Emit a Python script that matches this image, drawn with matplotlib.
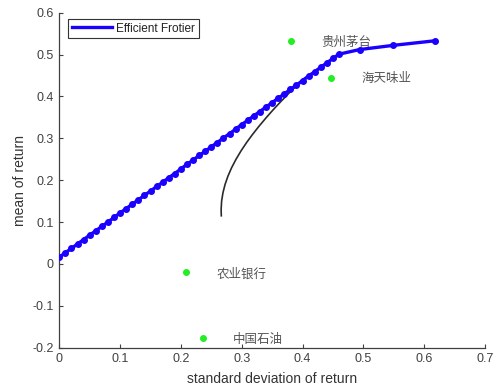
import matplotlib
matplotlib.use("Agg")
import matplotlib.pyplot as plt

# Efficient frontier (with risk-free asset)
frontier_sigma = [0.00, 0.01, 0.02, 0.03, 0.04, 0.05, 0.06, 0.07, 0.08, 0.09,
                  0.10, 0.11, 0.12, 0.13, 0.14, 0.15, 0.16, 0.17, 0.18, 0.19,
                  0.20, 0.21, 0.22, 0.23, 0.24, 0.25, 0.26, 0.27, 0.28, 0.29,
                  0.30, 0.31, 0.32, 0.33, 0.34, 0.35, 0.36, 0.37, 0.38, 0.39,
                  0.40, 0.41, 0.42, 0.43, 0.44, 0.45, 0.46, 0.494, 0.549, 0.618]
frontier_mu = [0.016, 0.027, 0.037, 0.048, 0.058, 0.069, 0.079, 0.090, 0.100, 0.111,
               0.122, 0.132, 0.143, 0.153, 0.164, 0.174, 0.185, 0.195, 0.206, 0.216,
               0.227, 0.238, 0.248, 0.259, 0.269, 0.280, 0.290, 0.301, 0.311, 0.322,
               0.333, 0.343, 0.354, 0.364, 0.375, 0.385, 0.396, 0.406, 0.417, 0.427,
               0.438, 0.449, 0.459, 0.470, 0.480, 0.491, 0.501, 0.512, 0.522, 0.533]

# Risky-asset frontier (black curve)
curve_sigma = [0.2664, 0.2661, 0.2669, 0.2691, 0.2726, 0.2774, 0.2834, 0.2906,
               0.2988, 0.3080, 0.3181, 0.3290, 0.3406, 0.3528, 0.3657, 0.3791,
               0.3930, 0.4000]
curve_mu = [0.115, 0.130, 0.150, 0.170, 0.190, 0.210, 0.230, 0.250,
            0.270, 0.290, 0.310, 0.330, 0.350, 0.370, 0.390, 0.410,
            0.430, 0.440]

# Individual stocks
stock_names = ["贵州茅台", "海天味业", "农业银行", "中国石油"]
stock_sigma = [0.381, 0.446, 0.208, 0.237]
stock_mu = [0.532, 0.445, -0.020, -0.176]
label_dx = [0.050, 0.051, 0.051, 0.048]
label_dy = [-0.004, -0.003, -0.004, -0.005]

xticks = [0, 0.1, 0.2, 0.3, 0.4, 0.5, 0.6, 0.7]
xticklabels = ["0", "0.1", "0.2", "0.3", "0.4", "0.5", "0.6", "0.7"]
yticks = [-0.2, -0.1, 0, 0.1, 0.2, 0.3, 0.4, 0.5, 0.6]
yticklabels = ["-0.2", "-0.1", "0", "0.1", "0.2", "0.3", "0.4", "0.5", "0.6"]

plt.rcParams['font.family'] = ['Liberation Sans', 'DejaVu Sans']

W, H = 496, 391
fig = plt.figure(figsize=(W / 100, H / 100), dpi=100)
ax = fig.add_axes([59.3 / W, 1 - 347.7 / H, (485 - 59.3) / W, (347.7 - 12.7) / H])

axcol = '#404040'

ax.plot(curve_sigma, curve_mu, color='#2b2b2b', lw=1.2, zorder=2)
ax.plot(frontier_sigma, frontier_mu, color='#1a00ff', lw=2.4, zorder=3,
        label='Efficient Frotier')
ax.plot(frontier_sigma, frontier_mu, linestyle='none', marker='o', ms=4,
        color='#1a00ff', zorder=4)

ax.plot(stock_sigma, stock_mu, linestyle='none', marker='o', ms=4,
        color='#22ee22', zorder=5)
for name, sx, sy, dx, dy in zip(stock_names, stock_sigma, stock_mu, label_dx, label_dy):
    ax.text(sx + dx, sy + dy, name, fontsize=9, color='#555555', ha='left', va='center',
            family=['Noto Sans CJK SC', 'DejaVu Sans'])

ax.set_xlim(0, 0.7)
ax.set_ylim(-0.2, 0.6)
ax.set_xticks(xticks)
ax.set_xticklabels(xticklabels)
ax.set_yticks(yticks)
ax.set_yticklabels(yticklabels)

for s in ['top', 'right']:
    ax.spines[s].set_visible(False)
for s in ['left', 'bottom']:
    ax.spines[s].set_color(axcol)
    ax.spines[s].set_linewidth(0.9)
ax.tick_params(direction='in', length=3, width=0.8, colors=axcol, labelsize=9, pad=4)

ax.set_xlabel('standard deviation of return', fontsize=10, color='#333333', labelpad=5)
ax.set_ylabel('mean of return', fontsize=10, color='#333333', labelpad=4)

leg = ax.legend(loc='upper left', bbox_to_anchor=(0.0204, 0.981), borderaxespad=0,
                fontsize=8.5, fancybox=False, edgecolor='#333333', framealpha=1,
                handlelength=3.4, handletextpad=0.4, borderpad=0.3)
leg.get_frame().set_linewidth(0.8)
for t in leg.get_texts():
    t.set_color('#222222')

fig.savefig('out.png', dpi=100)
